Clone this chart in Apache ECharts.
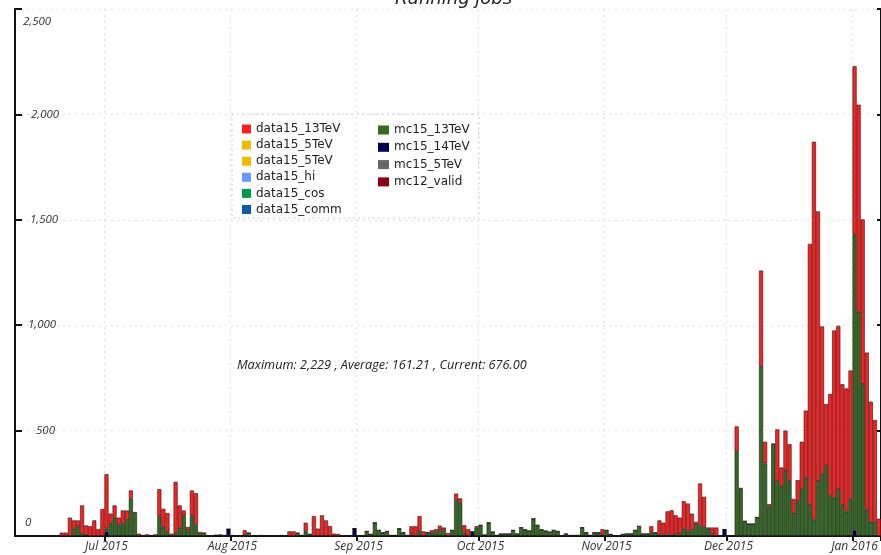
<!DOCTYPE html>
<html>
<head>
<meta charset="utf-8">
<script src="https://cdn.jsdelivr.net/npm/echarts@6/dist/echarts.min.js"></script>
<style>html,body{margin:0;padding:0;background:#fff}#c{width:881px;height:555px}</style>
</head>
<body>
<div id="c"></div>
<script>
// first day of the daily series, number of days
const startDate = Date.UTC(2015, 5, 9);
const monthNames = ['Jan','Feb','Mar','Apr','May','Jun','Jul','Aug','Sep','Oct','Nov','Dec'];
const yTicks = [0, 500, 1000, 1500, 2000, 2500];

// mc15_13TeV (green), daily running jobs
const mc15_13TeV = [
  0,0,0,0,0,0,0,0,0,0,
  0,0,0,0,35,46,10,5,0,0,
  0,0,15,58,87,55,58,74,177,109,
  0,0,0,0,0,93,43,19,0,14,
  39,98,27,98,50,8,14,0,0,4,
  5,3,0,3,2,0,5,14,2,0,
  3,0,0,0,0,3,0,0,0,14,
  3,20,8,0,0,0,0,0,0,0,
  0,0,0,0,0,0,22,8,63,27,
  16,22,3,3,35,16,3,8,0,24,
  0,16,16,19,27,27,0,27,170,157,
  16,0,0,40,51,5,63,19,3,10,
  10,10,27,10,40,30,24,82,51,30,
  24,19,27,22,2,10,3,3,3,40,
  16,3,16,16,5,27,8,2,2,8,
  10,10,27,46,10,10,16,16,5,5,
  5,5,8,8,35,24,27,59,48,43,
  35,8,0,2,0,2,2,402,224,70,
  57,57,88,804,344,138,436,260,236,312,
  260,111,165,224,277,146,78,260,293,335,
  189,182,222,146,116,175,1402,1064,720,125,
  67,67,0
];
// data15_13TeV (red)
const data15_13TeV = [
  0,0,0,0,0,0,0,0,2,3,
  3,16,16,87,39,28,135,45,46,74,
  33,128,258,48,58,32,63,47,39,5,
  11,5,8,0,8,129,86,90,11,243,
  106,23,16,118,153,11,0,2,0,0,
  0,0,0,0,0,0,22,0,0,3,
  0,3,0,0,2,0,3,22,22,0,
  0,43,0,94,35,98,74,47,11,10,
  3,2,0,0,0,0,0,0,0,0,
  0,0,0,0,0,0,0,38,46,70,
  22,0,11,13,22,13,14,0,31,21,
  35,32,0,6,0,0,0,0,0,0,
  0,0,0,0,0,0,0,0,0,0,
  0,0,0,0,0,0,0,0,0,0,
  0,0,0,0,27,0,0,0,0,0,
  0,0,0,0,0,0,30,0,69,58,
  112,117,90,79,130,130,79,8,201,143,
  5,32,40,0,0,0,0,118,4,0,
  0,0,0,455,103,13,0,246,89,188,
  176,65,100,223,318,1240,1792,1280,701,291,
  485,793,775,574,584,610,799,982,782,745,
  570,483,82
];
// mc15_14TeV (very dark)
const mc15_14TeV = [
  0,0,0,0,0,0,0,0,0,0,
  0,0,0,0,0,0,0,0,0,0,
  0,0,20,0,0,0,0,0,0,0,
  0,0,0,0,0,0,0,0,0,0,
  0,0,0,0,0,0,0,0,0,0,
  0,0,32,0,0,0,0,0,0,0,
  0,0,0,0,0,0,0,0,0,0,
  0,0,0,0,0,0,0,0,0,0,
  0,0,0,35,0,0,0,0,0,0,
  0,0,0,0,0,0,0,0,0,0,
  0,0,0,0,0,0,0,0,0,0,
  0,0,19,0,0,0,0,0,0,0,
  0,0,0,0,0,0,0,0,0,0,
  0,0,0,0,0,0,0,0,0,0,
  0,0,0,0,0,0,0,0,0,0,
  0,0,0,0,0,0,0,0,0,0,
  0,0,0,0,0,0,0,0,0,0,
  0,0,0,0,30,0,0,0,0,0,
  0,0,0,0,0,0,0,0,0,0,
  0,0,0,0,0,0,0,0,0,0,
  0,0,0,0,0,0,28,0,0,0,
  0,0,0
];
const legendLeft = ['data15_13TeV','data15_5TeV','data15_5TeV ','data15_hi','data15_cos','data15_comm'];
const legendRight = ['mc15_13TeV','mc15_14TeV','mc15_5TeV','mc12_valid'];
const statsText = 'Maximum: 2,229 , Average: 161.21 , Current: 676.00';

const days = [];
for (let i = 0; i < mc15_13TeV.length; i++) {
  const d = new Date(startDate + i * 86400000);
  days.push(d.getUTCFullYear() + '-' + String(d.getUTCMonth() + 1).padStart(2, '0') + '-' + String(d.getUTCDate()).padStart(2, '0'));
}
const isMonthStart = (idx) => days[idx] && days[idx].endsWith('-01');

const colors = {
  'data15_13TeV': '#ff1f1f', 'data15_5TeV': '#eebb00', 'data15_5TeV ': '#eebb00', 'data15_hi': '#6699ff',
  'data15_cos': '#00994c', 'data15_comm': '#0b5aa5', 'mc15_13TeV': '#356a22', 'mc15_14TeV': '#000055',
  'mc15_5TeV': '#666666', 'mc12_valid': '#8b0015'
};
const seriesData = { 'mc15_14TeV': mc15_14TeV, 'mc15_13TeV': mc15_13TeV, 'data15_13TeV': data15_13TeV };
const order = ['mc15_14TeV', 'mc15_13TeV', 'data15_13TeV', 'data15_5TeV', 'data15_5TeV ', 'data15_hi', 'data15_cos', 'data15_comm', 'mc15_5TeV', 'mc12_valid'];
const series = order.map(name => ({
  name, type: 'bar', stack: 'all', barCategoryGap: 0,
  data: seriesData[name] || [],
  itemStyle: { color: colors[name], borderColor: '#1a1a1a', borderWidth: 0.6 },
  emphasis: { disabled: true }, animation: false
}));

const labelPad = { 0: [0,0,27,2], 500: [0,0,0,13], 1000: [0,0,0,5], 1500: [0,0,0,7], 2000: [0,0,0,8], 2500: [26,0,0,0] };
const rich = {};
yTicks.forEach(v => { rich['l' + v] = { padding: labelPad[v], fontStyle: 'italic', fontSize: 11.5, color: '#333', fontFamily: 'Open Sans' }; });

const legendText = { fontSize: 12, lineHeight: 12, color: '#222', fontFamily: 'DejaVu Sans' };

const chart = echarts.init(document.getElementById('c'), null, { renderer: 'canvas' });
chart.setOption({
  animation: false,
  title: [
    { text: 'Running jobs', left: 390, top: -15, textStyle: { fontStyle: 'italic', fontWeight: 'normal', fontSize: 18, color: '#222', fontFamily: 'DejaVu Sans' } },
    { text: statsText, left: 232, top: 354, textStyle: { fontStyle: 'italic', fontWeight: 'normal', fontSize: 12.7, color: '#222', fontFamily: 'Open Sans' } }
  ],
  grid: { left: 15, right: -1, top: 9, bottom: 19 },
  legend: [
    { data: legendLeft, orient: 'vertical', left: 242, top: 123, padding: 0, itemWidth: 9, itemHeight: 9, itemGap: 4.1, icon: 'rect',
      itemStyle: { borderWidth: 0 }, textStyle: legendText, selectedMode: false },
    { data: legendRight, orient: 'vertical', left: 378, top: 124, padding: 0, itemWidth: 11, itemHeight: 9, itemGap: 5.3, icon: 'rect',
      itemStyle: { borderWidth: 0 }, textStyle: legendText, selectedMode: false }
  ],
  graphic: [
    { type: 'rect', shape: { x: 232, y: 114, width: 247, height: 104 }, style: { fill: 'none', stroke: '#d0d0d0', lineWidth: 1, lineDash: [2, 3] }, silent: true }
  ],
  xAxis: [
    { type: 'category', data: days, boundaryGap: true,
      axisLine: { lineStyle: { color: '#111', width: 2 } },
      axisTick: { show: false },
      axisLabel: { interval: (i) => isMonthStart(i), margin: 5,
        formatter: (v) => { const p = v.split('-'); return monthNames[+p[1] - 1] + ' ' + p[0]; },
        fontStyle: 'italic', fontSize: 12, color: '#333', fontFamily: 'Open Sans' },
      splitLine: { show: true, interval: (i) => isMonthStart(i), lineStyle: { type: [2, 4], color: '#dcdcdc' } } },
    { type: 'category', data: days, boundaryGap: true, position: 'top',
      axisLine: { lineStyle: { color: '#111', width: 2 } },
      axisTick: { show: true, inside: true, length: 5, interval: (i) => isMonthStart(i), lineStyle: { color: '#111', width: 2 } },
      axisLabel: { show: false }, splitLine: { show: false } }
  ],
  yAxis: [
    { type: 'value', min: 0, max: 2500, interval: 500,
      axisLine: { show: true, lineStyle: { color: '#111', width: 2 } },
      axisTick: { show: true, inside: true, length: 7, lineStyle: { color: '#111', width: 2 } },
      axisLabel: { inside: true, margin: 8,
        formatter: (v) => '{l' + v + '|' + v.toLocaleString('en-US') + '}', rich },
      splitLine: { show: true, lineStyle: { type: [2, 4], color: '#dcdcdc' } } },
    { type: 'value', min: 0, max: 2500, interval: 500, position: 'right',
      axisLine: { show: true, lineStyle: { color: '#111', width: 2 } },
      axisTick: { show: true, inside: true, length: 4, lineStyle: { color: '#111', width: 2 } },
      axisLabel: { show: false }, splitLine: { show: false } }
  ],
  series
});
</script>
</body>
</html>
